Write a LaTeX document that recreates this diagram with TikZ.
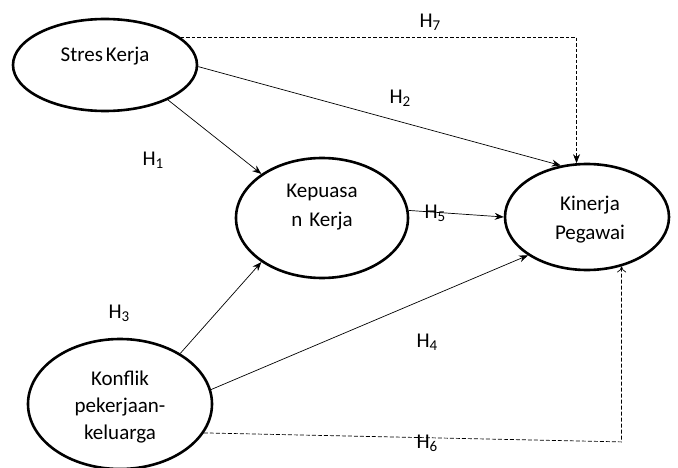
\documentclass[tikz,border=0pt]{standalone}
\usepackage{fontspec}
\setmainfont{Carlito}
\usetikzlibrary{arrows.meta,shapes.geometric}
\newcommand{\hsub}[1]{\raisebox{-3pt}{\fontsize{15}{15}\selectfont #1}}
\begin{document}
\begin{tikzpicture}[x=1pt,y=-1pt,
  var/.style={draw,ellipse,line width=2.6pt,inner sep=0pt},
  txt/.style={font=\fontsize{21}{27}\selectfont,inner sep=0pt,align=center},
  hlab/.style={font=\fontsize{21}{24}\selectfont,inner sep=0pt},
  arr/.style={line width=0.7pt,-{Stealth[length=9pt,width=7pt]}},
  darr/.style={line width=0.7pt,dash pattern=on 3.5pt off 2pt,-{Stealth[length=9pt,width=7pt]}},
  oarr/.style={line width=0.7pt,dash pattern=on 4pt off 2pt,-{To[length=6pt,width=9pt]}}]
\useasboundingbox (0,0) rectangle (678,468);
\node[var,minimum width=184pt,minimum height=92pt] (sk) at (105,65) {};
\node[var,minimum width=172pt,minimum height=120pt] (kq) at (322,218) {};
\node[var,minimum width=164pt,minimum height=106pt] (kp) at (587,217) {};
\node[var,minimum width=184pt,minimum height=130pt] (kf) at (120,404) {};
\node[txt] (tsk) at (105,56) {Stres\hspace{3pt}Kerja};
\node[txt,text width=120pt] (tkq) at (322,207) {Kepuasa\\[2pt]n Kerja};
\node[txt,text width=120pt] (tkp) at (590,220) {Kinerja\\[2pt]Pegawai};
\node[txt,text width=120pt] (tkf) at (120,407) {Konflik\\pekerjaan-\\keluarga};
\draw[arr] (sk.-29) -- (kq.144);
\draw[arr] (sk.-1) -- (kp.117);
\draw[darr] (sk.20) -| (kp.101);
\draw[arr] (kq.5) -- (kp.180);
\draw[arr] (kf.40) -- (kq.216);
\draw[arr] (kf.9) -- (kp.213);
\draw[oarr] (kf.-19) -- ([yshift=-9pt]kf.-19 -| kp.-55) -- (kp.-55);
\node[hlab] (h7) at (430,22) {H\hsub{7}};
\node[hlab] (h2) at (400,98) {H\hsub{2}};
\node[hlab] (h1) at (153,160) {H\hsub{1}};
\node[hlab] (h5) at (435,213) {H\hsub{5}};
\node[hlab] (h3) at (119,313) {H\hsub{3}};
\node[hlab] (h4) at (427,342) {H\hsub{4}};
\node[hlab] (h6) at (427,443) {H\hsub{6}};
\end{tikzpicture}
\end{document}
